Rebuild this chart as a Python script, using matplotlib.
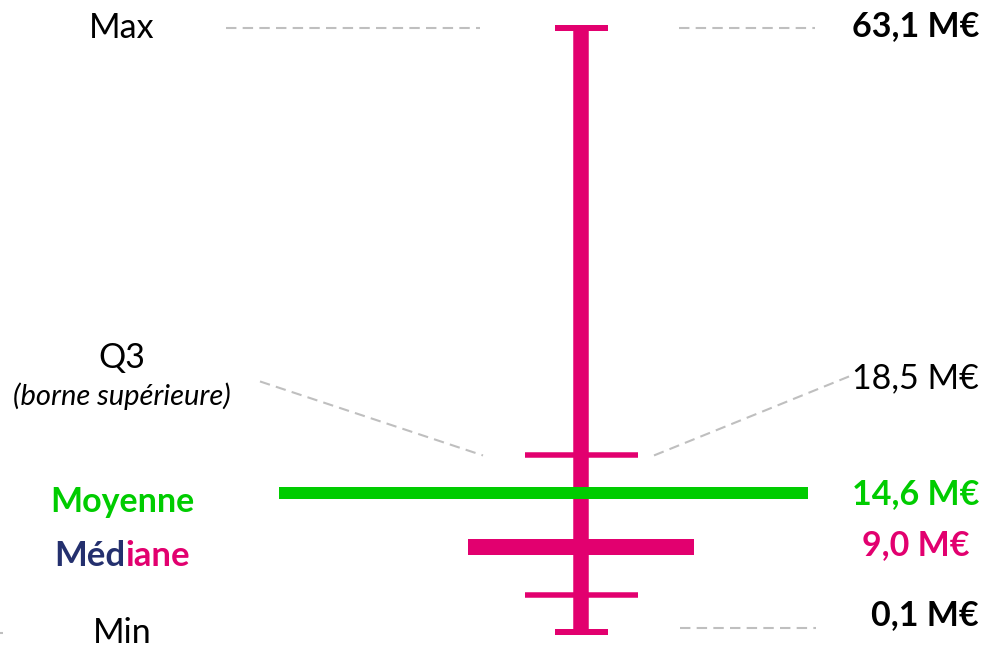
import matplotlib.pyplot as plt
import numpy as np

# stats (M€)
stat_names = ["Max", "Q3", "Moyenne", "Médiane", "Q1", "Min"]
stat_values = [63.1, 18.5, 14.6, 9.0, 4.0, 0.1]
value_labels = ["63,1 M€", "18,5 M€", "14,6 M€", "9,0 M€", None, "0,1 M€"]

v_max, v_q3, v_mean, v_med, v_q1, v_min = stat_values

PINK = "#E2006F"
GREEN = "#00CC00"
NAVY = "#24306E"
GREY = "#BFBFBF"
FONT = ["Lato", "DejaVu Sans"]

plt.rcParams["font.family"] = FONT

fig = plt.figure(figsize=(9.84, 6.5), dpi=100)
ax = fig.add_axes([0, 0, 1, 1])
ax.axis("off")

ppu = 9.595  # pixels per M€
ax.set_xlim(0, 984)
ax.set_ylim(v_min - 18 / ppu, v_max + 27.5 / ppu)

px = 1 / ppu  # one pixel in value units
xc = 581
lw = lambda p: p * 0.72  # pixel -> points

# whisker
ax.plot([xc, xc], [v_min, v_max], color=PINK, lw=lw(15.5), solid_capstyle="butt", zorder=2)
ax.plot([xc - 26.5, xc + 26.5], [v_max, v_max], color=PINK, lw=lw(6), solid_capstyle="butt", zorder=2)
ax.plot([xc - 26.5, xc + 26.5], [v_min, v_min], color=PINK, lw=lw(6), solid_capstyle="butt", zorder=2)
for q in (v_q3, v_q1):
    ax.plot([xc - 56.5, xc + 56.5], [q, q], color=PINK, lw=lw(5.5), solid_capstyle="butt", zorder=2)
ax.plot([xc - 113, xc + 113], [v_med, v_med], color=PINK, lw=lw(16), solid_capstyle="butt", zorder=3)
ax.plot([279, 808], [v_mean, v_mean], color=GREEN, lw=lw(12), solid_capstyle="butt", zorder=4)

# dashed leaders
dash = dict(color=GREY, lw=1.5, dashes=(5, 3), zorder=1)
ax.plot([226, 480], [v_max, v_max], **dash)
ax.plot([679, 815], [v_max, v_max], **dash)
ax.plot([260, 483], [v_q3 + 74 * px, v_q3], **dash)
ax.plot([654, 854], [v_q3, v_q3 + 81 * px], **dash)
ax.plot([680, 816], [v_min + 4 * px, v_min + 4 * px], **dash)
ax.plot([-6, 3], [v_min - 1 * px, v_min - 1 * px], **dash)

def label(x, v, dy, text, ha="center", **kw):
    return ax.annotate(text, xy=(x, v), xytext=(0, dy), textcoords="offset pixels",
                       ha=ha, va="baseline", **kw)

FS = 24.5
lx = 122
label(lx, v_max, -10.5, "Max", fontsize=FS)
label(lx, v_q3, 87, "Q3", fontsize=FS)
label(lx, v_q3, 50, "(borne supérieure)", fontsize=21, style="italic")
label(lx, v_mean, -19, "Moyenne", fontsize=FS, fontweight="bold", color=GREEN)
label(lx, v_min, -11, "Min", fontsize=FS)

# Médiane in two colours
fig.canvas.draw()
r = fig.canvas.get_renderer()
t_full = label(lx, v_med, -19, "Médiane", fontsize=FS + 0.5, fontweight="bold")
bb = t_full.get_window_extent(r)
t_full.remove()
x_anchor = ax.transData.transform((lx, 0))[0]
t1 = ax.annotate("Méd", xy=(lx, v_med), xytext=(bb.x0 - x_anchor, -19),
                 textcoords="offset pixels", ha="left", va="baseline",
                 fontsize=FS + 0.5, fontweight="bold", color=NAVY)
bb1 = t1.get_window_extent(r)
ax.annotate("iane", xy=(lx, v_med), xytext=(bb1.x1 - x_anchor, -19),
            textcoords="offset pixels", ha="left", va="baseline",
            fontsize=FS + 0.5, fontweight="bold", color=PINK)

rx = 979
label(rx, v_max, -8.5, value_labels[0], ha="right", fontsize=FS, fontweight="bold")
label(rx, v_q3, 67, value_labels[1], ha="right", fontsize=FS)
label(rx, v_mean, -11, value_labels[2], ha="right", fontsize=FS, fontweight="bold", color=GREEN)
label(970, v_med, -8, value_labels[3], ha="right", fontsize=FS, fontweight="bold", color=PINK)
label(rx, v_min, 7, value_labels[5], ha="right", fontsize=FS, fontweight="bold")

fig.savefig("out.png", dpi=100)
